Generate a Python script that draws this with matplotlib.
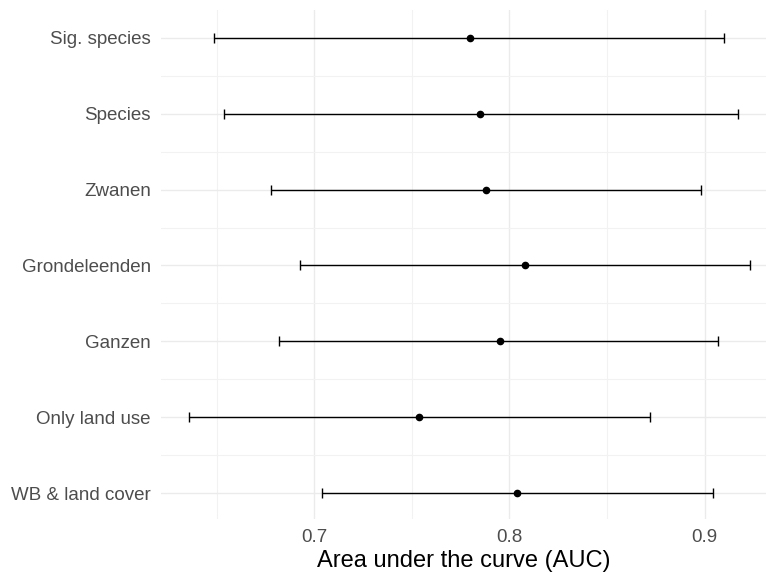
import matplotlib
matplotlib.use("Agg")
import matplotlib.pyplot as plt
from matplotlib.ticker import FixedLocator

plt.rcParams['font.family'] = ['Liberation Sans', 'DejaVu Sans']

models = ["WB & land cover", "Only land use", "Ganzen", "Grondeleenden",
          "Zwanen", "Species", "Sig. species"]
auc = [0.8040, 0.7537, 0.7949, 0.8079, 0.7879, 0.7850, 0.7796]
lower = [0.7038, 0.6356, 0.6816, 0.6927, 0.6778, 0.6535, 0.6485]
upper = [0.9042, 0.8721, 0.9071, 0.9232, 0.8980, 0.9170, 0.9101]

fig = plt.figure(figsize=(7.66, 5.73), dpi=100)
ax = fig.add_axes([160.7/766, (573-519)/573, (766-160.7)/766, (519-10)/573])

ypos = list(range(1, len(models)+1))
xerr = [[a - l for a, l in zip(auc, lower)], [u - a for a, u in zip(auc, upper)]]
ax.errorbar(auc, ypos, xerr=xerr, fmt='o', color='black', ecolor='black',
            elinewidth=1.0, capsize=3.8, capthick=1.0, markersize=4.5, zorder=3)

ax.set_xlim(0.6212, 0.9315)
ax.set_ylim(0.66, 7.366)
ax.xaxis.set_major_locator(FixedLocator([0.7, 0.8, 0.9]))
ax.xaxis.set_minor_locator(FixedLocator([0.65, 0.75, 0.85]))
ax.set_xticklabels(["0.7", "0.8", "0.9"])
ax.set_yticks(ypos)
ax.set_yticklabels(models)
ax.yaxis.set_minor_locator(FixedLocator([1.5, 2.5, 3.5, 4.5, 5.5, 6.5]))

ax.grid(which='major', color='#EBEBEB', linewidth=1.0)
ax.grid(which='minor', color='#F2F2F2', linewidth=0.8)
ax.set_axisbelow(True)
for s in ax.spines.values():
    s.set_visible(False)
ax.tick_params(which='both', length=0)
ax.tick_params(axis='y', labelsize=13.5, labelcolor='#4D4D4D', pad=7)
ax.tick_params(axis='x', labelsize=13.5, labelcolor='#4D4D4D', pad=7)
ax.set_xlabel("Area under the curve (AUC)", fontsize=17, color='black', labelpad=3)

fig.savefig("out.png", dpi=100)
